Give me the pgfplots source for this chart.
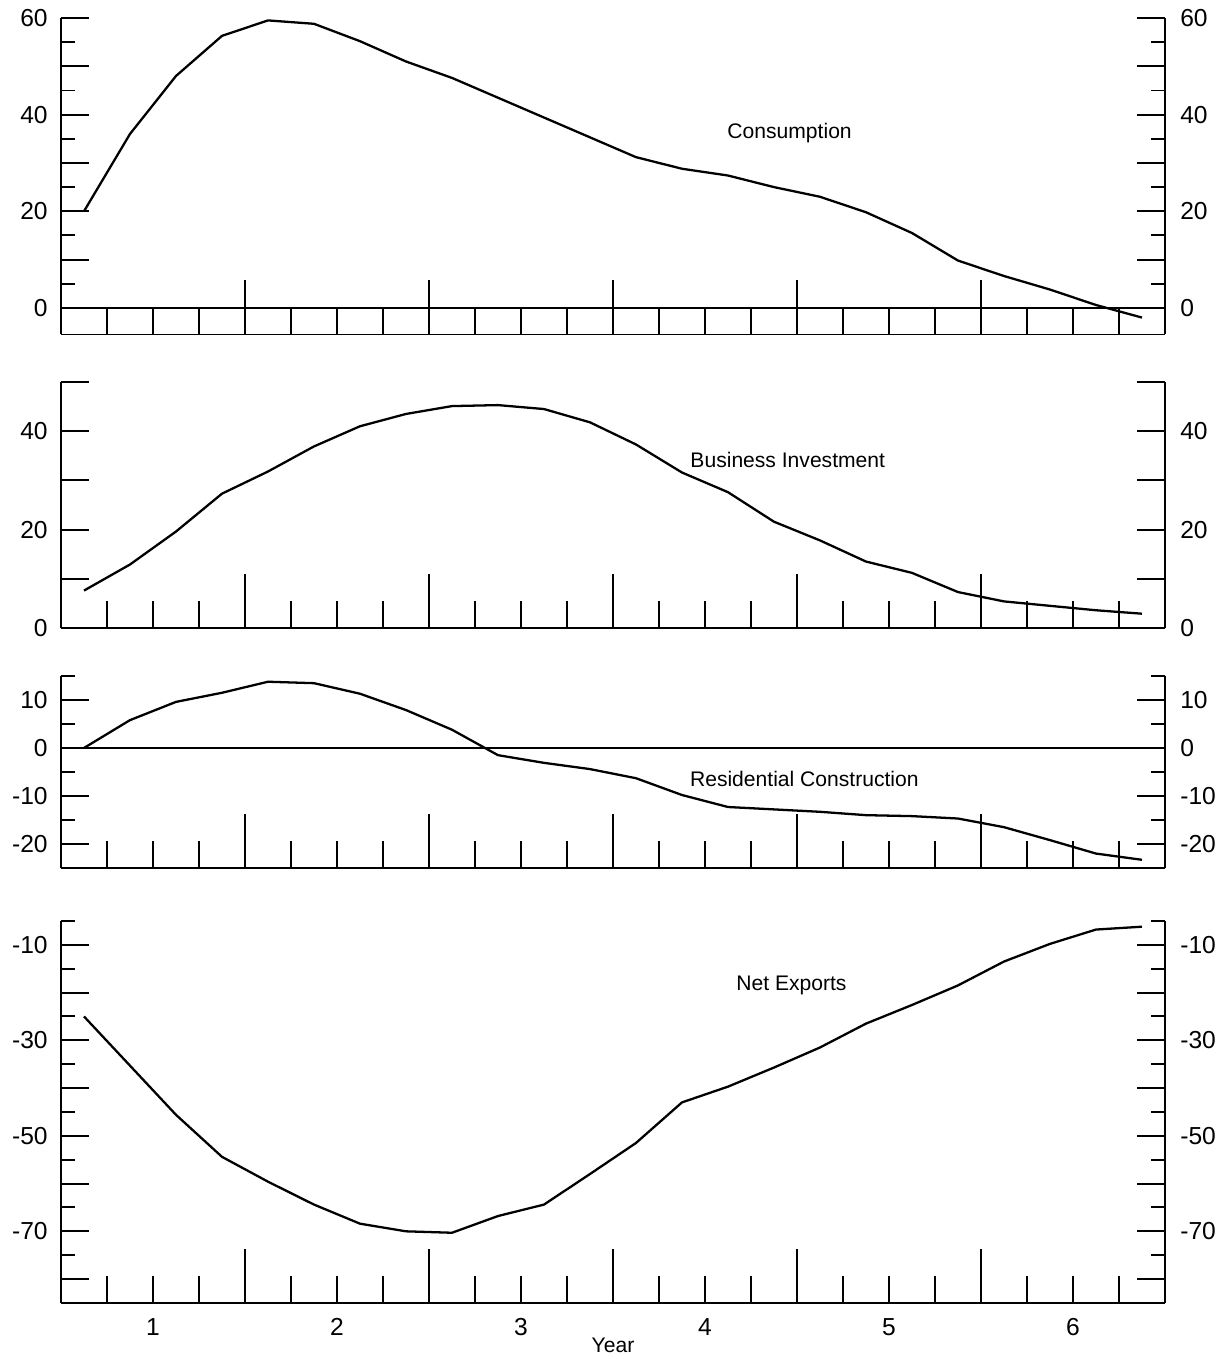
\documentclass[border=0pt]{standalone}
\usepackage{pgfplots}
\pgfplotsset{compat=1.18}
\usepackage{fontspec}
\setmainfont{Liberation Sans}

% quarterly series, plotted at the middle of each quarter
\pgfplotstableread{
x      cons   bus   res    nx
0.625  20.0   7.6   0.0   -25.0
0.875  36.0  12.9   5.8   -35.3
1.125  48.0  19.6   9.6   -45.6
1.375  56.3  27.3  11.5   -54.4
1.625  59.5  31.8  13.8   -59.6
1.875  58.8  36.9  13.5   -64.4
2.125  55.2  41.0  11.3   -68.4
2.375  51.0  43.5   7.9   -70.0
2.625  47.6  45.1   3.8   -70.3
2.875  43.5  45.3  -1.5   -66.8
3.125  39.4  44.5  -3.1   -64.4
3.375  35.3  41.8  -4.4   -58.0
3.625  31.2  37.3  -6.3   -51.5
3.875  28.8  31.6  -9.8   -43.0
4.125  27.4  27.6 -12.3   -39.7
4.375  25.0  21.6 -12.8   -35.7
4.625  23.0  17.8 -13.3   -31.5
4.875  19.8  13.5 -14.0   -26.5
5.125  15.5  11.2 -14.2   -22.6
5.375   9.8   7.3 -14.7   -18.5
5.625   6.6   5.4 -16.5   -13.5
5.875   3.8   4.5 -19.2    -9.8
6.125   0.6   3.6 -22.0    -6.8
6.375  -2.0   2.9 -23.3    -6.2
}\data

\pgfplotsset{
  base/.style={
    scale only axis, width=220.8mm,
    xmin=0.5, xmax=6.5,
    anchor=north west,
    tick align=inside,
    every tick/.style={black, line width=1.1pt},
    axis line style={line width=1.1pt},
    tick label style={font=\fontsize{14}{16}\selectfont},
  },
  % frame with y ticks, left labels and the curve
  yframe/.style={base,
    axis x line*=bottom, axis y line*=box,
    xtick=\empty,
    major tick length=5.6mm, minor tick length=2.8mm,
    yticklabel style={inner sep=0pt, xshift=-2.6mm},
  },
  % quarterly ticks on the bottom line
  xframe/.style={base,
    axis x line*=bottom, axis y line=none, ytick=\empty,
    xtick={1.5,2.5,3.5,4.5,5.5}, xticklabels={,,,,,},
    minor xtick={0.75,1,1.25,1.75,2,2.25,2.75,3,3.25,3.75,4,4.25,4.75,5,5.25,5.75,6,6.25},
    major tick length=10.8mm, minor tick length=5.4mm,
  },
  % labels on the right
  rlabels/.style={base,
    axis x line*=bottom, x axis line style={draw=none},
    axis y line*=right, y axis line style={draw=none},
    xtick=\empty, minor ytick={},
    ytick style={draw=none},
    yticklabel style={inner sep=0pt, xshift=3mm},
  },
  p1/.style={ymin=-5.5, ymax=60, height=63.3mm, at={(0mm,-3.6mm)},
    ytick={0,10,...,60}, yticklabels={0,,20,,40,,60}},
  p2/.style={ymin=0, ymax=50, height=49.2mm, at={(0mm,-76.4mm)},
    ytick={0,10,...,50}, yticklabels={0,,20,,40,}},
  p3/.style={ymin=-25, ymax=15, height=38.4mm, at={(0mm,-135.2mm)},
    ytick={-20,-10,0,10}, yticklabels={-20,-10,0,10}},
  p4/.style={ymin=-85, ymax=-5, height=76.4mm, at={(0mm,-184.2mm)},
    ytick={-80,-70,...,-10}, yticklabels={,-70,,-50,,-30,,-10}},
  curve/.style={black, line width=1.3pt, no markers},
}

\begin{document}
\begin{tikzpicture}[font=\fontsize{12}{14}\selectfont]

% Consumption
\begin{axis}[yframe, p1, minor ytick={5,15,...,55}]
  \addplot[black, line width=1.1pt] coordinates {(0.5,0) (6.5,0)};
  \addplot[curve] table[x=x, y=cons] {\data};
  \node at (axis cs:4.46,36.2) {Consumption};
\end{axis}
\begin{axis}[xframe, p1]\end{axis}
\begin{axis}[rlabels, p1]\end{axis}

% Business investment
\begin{axis}[yframe, p2]
  \addplot[curve] table[x=x, y=bus] {\data};
  \node at (axis cs:4.45,34.1) {Business Investment};
\end{axis}
\begin{axis}[xframe, p2]\end{axis}
\begin{axis}[rlabels, p2]\end{axis}

% Residential construction
\begin{axis}[yframe, p3, minor ytick={-15,-5,5,15}]
  \addplot[black, line width=1.1pt] coordinates {(0.5,0) (6.5,0)};
  \addplot[curve] table[x=x, y=res] {\data};
  \node at (axis cs:4.54,-6.5) {Residential Construction};
\end{axis}
\begin{axis}[xframe, p3]\end{axis}
\begin{axis}[rlabels, p3]\end{axis}

% Net exports
\begin{axis}[yframe, p4, minor ytick={-75,-65,...,-5}]
  \addplot[curve] table[x=x, y=nx] {\data};
  \node at (axis cs:4.47,-18.4) {Net Exports};
\end{axis}
\begin{axis}[xframe, p4]\end{axis}
\begin{axis}[rlabels, p4,
    xtick={1,2,3,4,5,6}, xticklabels={1,2,3,4,5,6},
    xtick style={draw=none},
    xticklabel style={inner sep=0pt, anchor=north, yshift=-3mm}]
\end{axis}

\node[anchor=base] at (110.4mm,-270.6mm) {Year};
\path (-12.2mm,0mm) rectangle (233.8mm,-271.8mm);
\end{tikzpicture}
\end{document}
